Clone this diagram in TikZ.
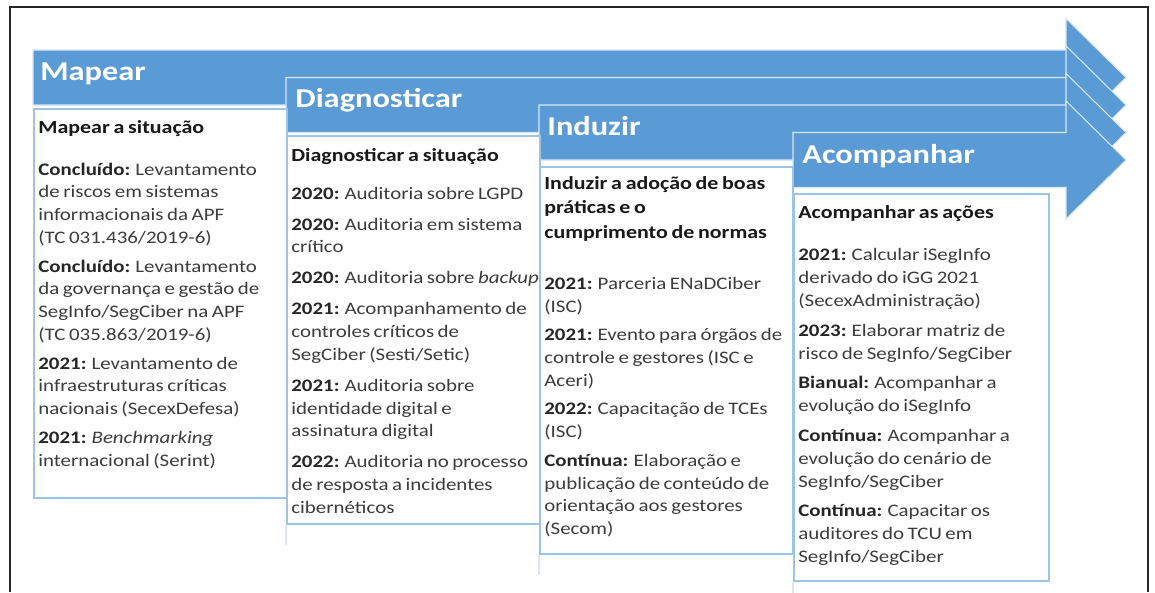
\documentclass[tikz,border=0pt]{standalone}
\usepackage{fontspec}
\setmainfont{Carlito}[FakeStretch=1.19, WordSpace=0.75]
\usetikzlibrary{positioning}
\definecolor{bandblue}{HTML}{5B9BD5}
\definecolor{bandline}{HTML}{D6E5F4}
\definecolor{boxline}{HTML}{9DC3E6}
\definecolor{bodygray}{HTML}{3C3C3C}
\newcommand{\lbl}[1]{\textbf{\color{black!85}#1}}
\newcommand{\hdg}[1]{{\fontsize{10.5}{13}\selectfont\bfseries\color{black!90}#1}}

\begin{document}
\begin{tikzpicture}[x=0.02cm, y=-0.02cm,
        band/.style={fill=bandblue, draw=bandline, line width=0.6pt},
        stagetitle/.style={anchor=base west, inner sep=0pt, text=white, font=\fontsize{15.5}{18}\selectfont\bfseries},
        stagebox/.style={rectangle, draw=boxline, line width=1.1pt, fill=white, minimum width=5.06cm, anchor=north west, inner sep=0pt},
        stagetext/.style={anchor=north west, align=left, inner sep=0pt, text=bodygray, font=\fontsize{10}{13}\selectfont},
        tailline/.style={draw=boxline!40, line width=0.6pt},
        frame/.style={draw=black!85, line width=1.1pt}
    ]
        \useasboundingbox (0,0) rectangle (1155,592);
        % outer frame, open at the bottom
        \draw[frame] (10,592) -- (10,7) -- (1148,7) -- (1148,592);

        % arrow bands
        \foreach \bx/\by in {33/50, 286/77.5, 539/105, 793/132.5}
            \filldraw[band] (\bx,\by) -- (1066,\by) -- (1066,\by-31.5) -- (1126,\by+27.5)
                -- (1066,\by+86.5) -- (1066,\by+55) -- (\bx,\by+55) -- cycle;

        % stage titles
        \node[stagetitle] (maptitle) at (40,80.5) {Mapear};
        \node[stagetitle] (diagtitle) at (295,107.5) {Diagnosticar};
        \node[stagetitle] (indtitle) at (547,135.5) {Induzir};
        \node[stagetitle] (acomptitle) at (802,163) {Acompanhar};

        % stage boxes
        \node[stagebox, minimum height=7.78cm] (mapbox) at (33,108) {};
        \node[stagebox, minimum height=7.76cm] (diagbox) at (286,135) {};
        \node[stagebox, minimum height=7.74cm] (indbox) at (539,166) {};
        \node[stagebox, minimum height=7.74cm, minimum width=5.1cm] (acompbox) at (793,193) {};

        \draw[tailline] (diagbox.south west) -- ++(0,20);
        \draw[tailline] (indbox.south west) -- ++(0,20);
        \draw[tailline] (acompbox.south west) -- ++(0,14);

        % box texts
        \node[stagetext] (maptext) at ([shift={(5,12)}]mapbox.north west) {%
            \hdg{Mapear a situação}\\[10.8pt]
            \lbl{Concluído:} Levantamento\\
            de riscos em sistemas\\
            informacionais da APF\\
            (TC 031.436/2019-6)\\[3.2pt]
            \lbl{Concluído:} Levantamento\\
            da governança e gestão de\\
            SegInfo/SegCiber na APF\\
            (TC 035.863/2019-6)\\[3.2pt]
            \lbl{2021:} Levantamento de\\
            infraestruturas críticas\\
            nacionais (SecexDefesa)\\[3.2pt]
            \lbl{2021:} \textit{Benchmarking}\\
            internacional (Serint)};
        \node[stagetext] (diagtext) at ([shift={(5,13)}]diagbox.north west) {%
            \hdg{Diagnosticar a situação}\\[8.5pt]
            \lbl{2020:} Auditoria sobre LGPD\\[4.6pt]
            \lbl{2020:} Auditoria em sistema\\
            crítico\\[4.6pt]
            \lbl{2020:} Auditoria sobre \textit{backup}\\[4.6pt]
            \lbl{2021:} Acompanhamento de\\
            controles críticos de\\
            SegCiber (Sesti/Setic)\\[4.6pt]
            \lbl{2021:} Auditoria sobre\\
            identidade digital e\\
            assinatura digital\\[4.6pt]
            \lbl{2022:} Auditoria no processo\\
            de resposta a incidentes\\
            cibernéticos};
        \node[stagetext] (indtext) at ([shift={(5,10)}]indbox.north west) {%
            \hdg{Induzir a adoção de boas}\\[1pt]
            \hdg{práticas e o}\\[1pt]
            \hdg{cumprimento de normas}\\[16pt]
            \lbl{2021:} Parceria ENaDCiber\\
            (ISC)\\[3.2pt]
            \lbl{2021:} Evento para órgãos de\\
            controle e gestores (ISC e\\
            Aceri)\\[3.2pt]
            \lbl{2022:} Capacitação de TCEs\\
            (ISC)\\[3.2pt]
            \lbl{Contínua:} Elaboração e\\
            publicação de conteúdo de\\
            orientação aos gestores\\
            (Secom)};
        \node[stagetext] (acomptext) at ([shift={(5,12)}]acompbox.north west) {%
            \hdg{Acompanhar as ações}\\[11.3pt]
            \lbl{2021:} Calcular iSegInfo\\
            derivado do iGG 2021\\
            (SecexAdministração)\\[3.9pt]
            \lbl{2023:} Elaborar matriz de\\
            risco de SegInfo/SegCiber\\[3.9pt]
            \lbl{Bianual:} Acompanhar a\\
            evolução do iSegInfo\\[3.9pt]
            \lbl{Contínua:} Acompanhar a\\
            evolução do cenário de\\
            SegInfo/SegCiber\\[3.9pt]
            \lbl{Contínua:} Capacitar os\\
            auditores do TCU em\\
            SegInfo/SegCiber};
    \end{tikzpicture}
\end{document}
